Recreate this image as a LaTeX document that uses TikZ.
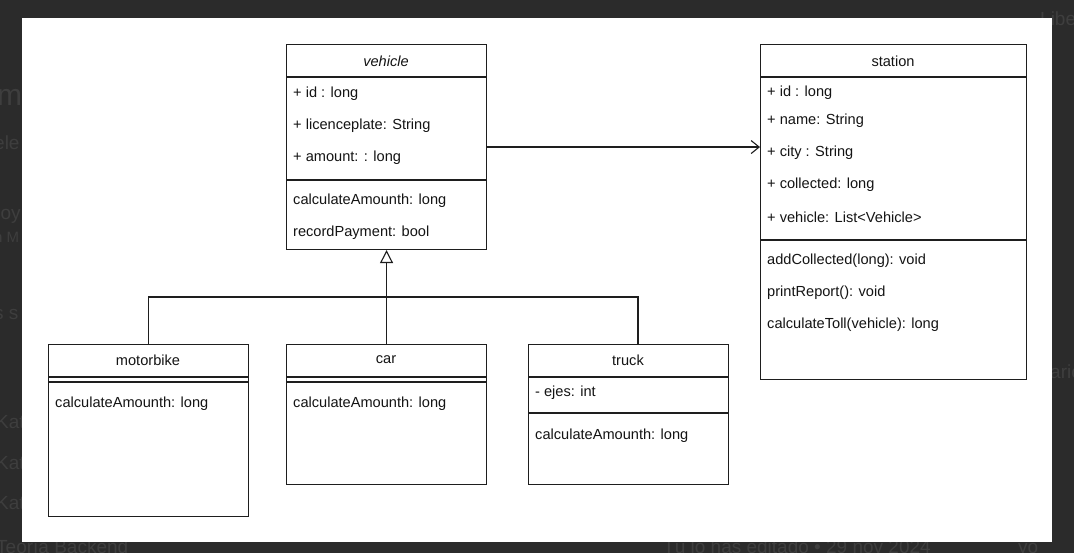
\documentclass[tikz,border=0pt]{standalone}
\usepackage{fontspec}
\setmainfont{Liberation Sans}
\usetikzlibrary{arrows.meta}
\definecolor{appbg}{HTML}{2B2B2B}
\definecolor{ghost}{HTML}{3E3E3E}
\definecolor{umlline}{HTML}{1E1E1E}
\definecolor{umltext}{HTML}{141414}
\tikzset{
  classbox/.style={draw=umlline, line width=1.1pt, fill=white, inner sep=0pt, anchor=north west},
  sep/.style={draw=umlline, line width=1.1pt},
  member/.style={anchor=west, inner sep=0pt, text=umltext, font=\fontsize{14.6}{17}\selectfont},
  title/.style={inner sep=0pt, text=umltext, font=\fontsize{14.6}{17}\selectfont},
  ghosttext/.style={anchor=base west, inner sep=0pt, text=ghost, font=\fontsize{19}{22}\selectfont},
  assoc/.style={draw=umlline, line width=1.1pt, -{Straight Barb[length=8pt,width=13pt,line width=1.1pt]}},
  inherit/.style={draw=umlline, line width=1.1pt, -{Triangle[open,length=13pt,width=13pt,line width=1.1pt]}},
  link/.style={draw=umlline, line width=1.1pt}
}
\begin{document}
\begin{tikzpicture}[x=1pt,y=-1pt]
\useasboundingbox (0,0) rectangle (1074,553);
\clip (0,0) rectangle (1074,553);
% application window behind the dialog
\fill[appbg] (0,0) rectangle (1074,553);
\node[ghosttext, font=\fontsize{30}{34}\selectfont] (g1) at (-3,106) {m};
\node[ghosttext] (g2) at (-6,150) {ele};
\node[ghosttext] (g3) at (-6,220) {roy};
\node[ghosttext, font=\fontsize{15}{18}\selectfont] (g4) at (-6,243) {n M};
\node[ghosttext] (g5) at (-6,320) {s s};
\node[ghosttext] (g6) at (-4,428) {Kat};
\node[ghosttext] (g7) at (-4,469) {Kat};
\node[ghosttext] (g8) at (-4,509) {Kat};
\node[ghosttext] (g9) at (-4,553) {Teoría Backend};
\node[ghosttext] (g10) at (663,553) {Tú lo has editado • 29 nov 2024};
\node[ghosttext] (g11) at (1018,553) {yo};
\node[ghosttext] (g12) at (1040,26) {Libe};
\node[ghosttext] (g13) at (1050,378) {ario};
% dialog panel
\fill[white] (22,18) rectangle (1052,542);

% class vehicle
\node[classbox, minimum width=200pt, minimum height=205pt] (vehicle) at (286,44) {};
\draw[sep] (vehicle.west |- 0,77) -- (vehicle.east |- 0,77);
\draw[sep] (vehicle.west |- 0,180) -- (vehicle.east |- 0,180);
\node[title, font=\fontsize{14.6}{17}\itshape] (vtitle) at (386,61) {vehicle};
\node[member] (v1) at (293,94) {+ id : long};
\node[member] (v2) at (293,126) {+ licenceplate: String};
\node[member] (v3) at (293,158) {+ amount: : long};
\node[member] (v4) at (293,201) {calculateAmounth: long};
\node[member] (v5) at (293,233) {recordPayment: bool};

% class station
\node[classbox, minimum width=266pt, minimum height=335pt] (station) at (760,44) {};
\draw[sep] (station.west |- 0,77) -- (station.east |- 0,77);
\draw[sep] (station.west |- 0,240) -- (station.east |- 0,240);
\node[title] (stitle) at (893,61) {station};
\node[member] (s1) at (767,93) {+ id : long};
\node[member] (s2) at (767,121) {+ name: String};
\node[member] (s3) at (767,153) {+ city : String};
\node[member] (s4) at (767,185) {+ collected: long};
\node[member] (s5) at (767,217) {+ vehicle: List<Vehicle>};
\node[member] (s6) at (767,261) {addCollected(long): void};
\node[member] (s7) at (767,293) {printReport(): void};
\node[member] (s8) at (767,325) {calculateToll(vehicle): long};

% class motorbike
\node[classbox, minimum width=200pt, minimum height=172pt] (motorbike) at (48,344) {};
\draw[sep] (motorbike.west |- 0,377) -- (motorbike.east |- 0,377);
\draw[sep] (motorbike.west |- 0,382) -- (motorbike.east |- 0,382);
\node[title] (mtitle) at (148,360) {motorbike};
\node[member] (m1) at (55,404) {calculateAmounth: long};

% class car
\node[classbox, minimum width=200pt, minimum height=140pt] (car) at (286,344) {};
\draw[sep] (car.west |- 0,377) -- (car.east |- 0,377);
\draw[sep] (car.west |- 0,382) -- (car.east |- 0,382);
\node[title] (ctitle) at (386,360) {car};
\node[member] (c1) at (293,404) {calculateAmounth: long};

% class truck
\node[classbox, minimum width=200pt, minimum height=140pt] (truck) at (528,344) {};
\draw[sep] (truck.west |- 0,377) -- (truck.east |- 0,377);
\draw[sep] (truck.west |- 0,413) -- (truck.east |- 0,413);
\node[title] (ttitle) at (628,360) {truck};
\node[member] (t1) at (535,393) {- ejes: int};
\node[member] (t2) at (535,436) {calculateAmounth: long};

% association vehicle -> station
\draw[assoc] (vehicle.east) -- (vehicle.east -| station.west);

% generalisation tree
\coordinate (fork) at (386,297);
\coordinate (truckjoin) at (638,344);
\draw[inherit] (car.north) -- (vehicle.south);
\draw[link] (motorbike.north) |- (fork) -| (truckjoin);
\end{tikzpicture}
\end{document}
